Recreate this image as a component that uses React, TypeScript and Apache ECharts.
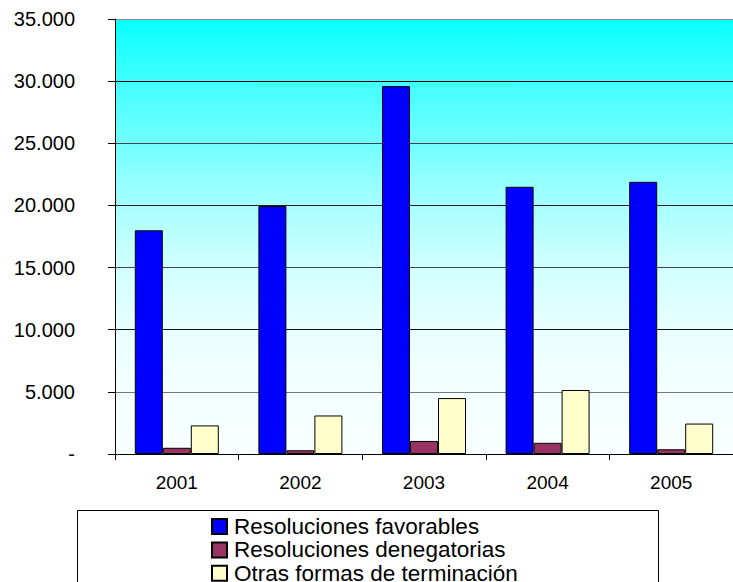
import React, { useEffect, useRef } from "react";
import * as echarts from "echarts";

const years = ["2001", "2002", "2003", "2004", "2005"];
const favorables = [18000, 19950, 29600, 21500, 21900];
const denegatorias = [500, 300, 1050, 900, 380];
const otras = [2300, 3100, 4500, 5150, 2450];
const seriesNames = [
  "Resoluciones favorables",
  "Resoluciones denegatorias",
  "Otras formas de terminación",
];
const seriesColors = ["#0000FF", "#993366", "#FFFFCC"];

function fmt(v: number): string {
  if (v === 0) return "-";
  return String(Math.round(v)).replace(/\B(?=(\d{3})+(?!\d))/g, ".");
}

export default function App() {
  const ref = useRef<HTMLDivElement>(null);
  useEffect(() => {
    if (!ref.current) return;
    const chart = echarts.init(ref.current, null, { renderer: "svg" });
    const font = "Liberation Sans, Arial, sans-serif";
    const data = [favorables, denegatorias, otras];
    chart.setOption({
      animation: false,
      backgroundColor: "#ffffff",
      grid: {
        left: 115,
        top: 19,
        width: 629,
        height: 435,
        show: true,
        borderWidth: 0,
        backgroundColor: new echarts.graphic.LinearGradient(0, 0, 0, 1, [
          { offset: 0, color: "#08ffff" },
          { offset: 0.14, color: "#40ffff" },
          { offset: 0.28, color: "#70ffff" },
          { offset: 0.43, color: "#a8ffff" },
          { offset: 0.57, color: "#d0ffff" },
          { offset: 0.71, color: "#e8ffff" },
          { offset: 0.86, color: "#f4ffff" },
          { offset: 1, color: "#f8ffff" },
        ]),
      },
      xAxis: {
        type: "category",
        data: years,
        axisLine: { show: true, lineStyle: { color: "#000", width: 1 } },
        axisTick: { show: true, length: 6, lineStyle: { color: "#000" } },
        axisLabel: {
          color: "#000",
          fontFamily: font,
          fontSize: 19,
          margin: 19,
        },
        splitLine: { show: false },
      },
      yAxis: {
        type: "value",
        min: 0,
        max: 35000,
        interval: 5000,
        axisLine: { show: true, lineStyle: { color: "#000", width: 1 } },
        axisTick: { show: true, length: 7, lineStyle: { color: "#000" } },
        axisLabel: {
          color: "#000",
          fontFamily: font,
          fontSize: 20,
          margin: 40,
          formatter: (v: number) => fmt(v),
        },
        splitLine: {
          show: true,
          lineStyle: {
            color: ["#000", "#777", "#111", "#444", "#222", "#444", "#000", "#888"],
            width: 1,
          },
        },
      },
      legend: {
        show: true,
        orient: "vertical",
        left: 211,
        top: 515,
        width: 440,
        height: 120,
        padding: 0,
        itemWidth: 15,
        itemHeight: 15,
        itemGap: 0.4,
        icon: "rect",
        textStyle: {
          color: "#000",
          fontFamily: font,
          fontSize: 22.5,
          lineHeight: 23,
          padding: [0, 0, 0, 2],
        },
        data: seriesNames,
      },
      graphic: [
        {
          type: "rect",
          z: -1,
          shape: { x: 77.5, y: 510.5, width: 581, height: 100 },
          style: { fill: "#fff", stroke: "#000", lineWidth: 1 },
        },
      ],
      series: seriesNames.map((name, i) => ({
        name,
        type: "bar",
        data: data[i],
        barWidth: 28,
        barGap: "0%",
        itemStyle: {
          color: seriesColors[i],
          borderColor: "#000",
          borderWidth: 1,
        },
      })),
    });
    return () => chart.dispose();
  }, []);
  return (
    <div
      ref={ref}
      style={{ position: "absolute", left: 0, top: 0, width: 733, height: 582, overflow: "hidden" }}
    />
  );
}
